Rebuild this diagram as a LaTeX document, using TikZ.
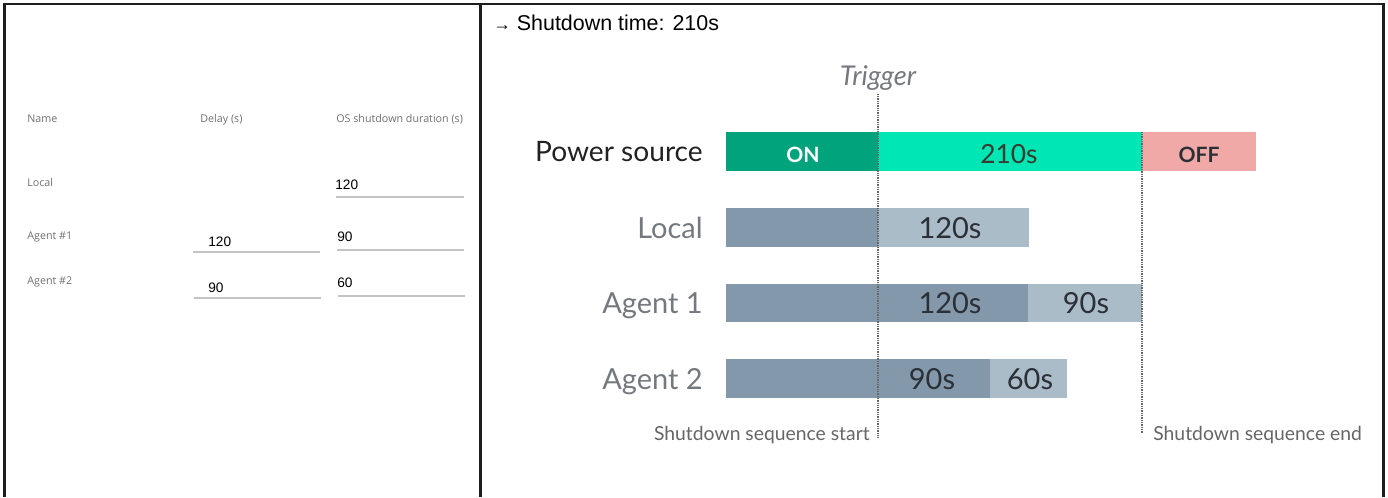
\documentclass[tikz,border=0pt]{standalone}
\usepackage{fontspec}
\setmainfont{Liberation Sans}
\newfontfamily\barfont{Lato}
\newfontfamily\formfont{Open Sans}
\usetikzlibrary{positioning}
\definecolor{framegray}{HTML}{1E1E1E}
\definecolor{fieldline}{HTML}{C4C4C4}
\definecolor{formgray}{HTML}{707070}
\definecolor{rowgray}{HTML}{74797F}
\definecolor{srcdark}{HTML}{222222}
\definecolor{onfill}{HTML}{00A37B}
\definecolor{runfill}{HTML}{00E6B4}
\definecolor{offfill}{HTML}{F0A9A7}
\definecolor{delayfill}{HTML}{8399AB}
\definecolor{osfill}{HTML}{ABBCC9}
\definecolor{segtext}{HTML}{2B2F36}
\definecolor{markgray}{HTML}{666666}
\tikzset{
  frame/.style={line width=1.2pt,draw=framegray},
  field/.style={line width=1.1pt,draw=fieldline},
  formlab/.style={font=\formfont\fontsize{6.1}{8}\selectfont,text=formgray,anchor=base west,inner sep=0},
  formval/.style={font=\fontsize{7.8}{9}\selectfont,anchor=base west,inner sep=0},
  rowlab/.style={font=\barfont\fontsize{16.5}{20}\selectfont,text=rowgray,anchor=base east,inner sep=0},
  seglab/.style={font=\barfont\fontsize{16.5}{20}\selectfont,text=segtext,anchor=base,inner sep=0},
  statelab/.style={font=\barfont\bfseries\fontsize{12}{14}\selectfont,anchor=base,inner sep=0},
  % the two dotted time markers
  marker/.style={line width=0.6pt,draw=markgray,dash pattern=on 0.5pt off 0.5pt},
  note/.style={font=\barfont\fontsize{11}{13}\selectfont,text=markgray,anchor=base,inner sep=0},
}

\begin{document}
\begin{tikzpicture}[x=0.02cm,y=-0.02cm]
  \useasboundingbox (0,0) rectangle (1388,497);
  % table frame: two cells, open at the bottom
  \draw[frame] (4.5,497) -- (4.5,4) -- (1383.5,4) -- (1383.5,497);
  \draw[frame] (480.5,4) -- (480.5,497);

  % left cell: the settings form
  \node[formlab] (hname)  at (27,122)  {Name};
  \node[formlab] (hdelay) at (200,122) {Delay (s)};
  \node[formlab] (hos)    at (336,122) {OS shutdown duration (s)};
  \node[formlab] (flocal) at (27,186)  {Local};
  \node[formlab] (fag1)   at (27,239)  {Agent \#1};
  \node[formlab] (fag2)   at (27,284)  {Agent \#2};
  \node[formval] (vlos)   at (335,189) {120};
  \node[formval] (va1d)   at (208,246) {120};
  \node[formval] (va1os)  at (337,241) {90};
  \node[formval] (va2d)   at (208,292) {90};
  \node[formval] (va2os)  at (337,287) {60};
  \draw[field] (336,197) -- (464,197);
  \draw[field] (193,252) -- (320,252);
  \draw[field] (337,250) -- (464,250);
  \draw[field] (194,298) -- (321,298);
  \draw[field] (338,296) -- (465,296);

  % right cell: the timeline
  \node[anchor=base west,inner sep=0,font=\fontsize{12.2}{14}\selectfont] (total) at (493,31)
    {{\fontsize{10}{12}\selectfont →}\ Shutdown time: 210s};

  \coordinate (trigtop) at (878,94);
  \coordinate (trigbot) at (878,437);
  \coordinate (endtop)  at (1142,132);
  \coordinate (endbot)  at (1142,433);

  % power source
  \fill[onfill]  (726,132) rectangle (878,171);
  \fill[runfill] (878,132) rectangle (1142,171);
  \fill[offfill] (1142,132) rectangle (1256,171);
  \node[rowlab,text=srcdark,font=\barfont\fontsize{16}{19}\selectfont] (psrc) at (703,161) {Power source};
  \node[statelab,text=white] (son)  at (803,162) {ON};
  \node[seglab,font=\barfont\fontsize{15}{18}\selectfont,text=segtext!85!olive] (srun) at (1009,163) {210s};
  \node[statelab,text=segtext] (soff) at (1199,162) {OFF};

  % local
  \fill[delayfill] (726,208) rectangle (878,247);
  \fill[osfill]    (878,208) rectangle (1029,247);
  \node[rowlab] (rlocal) at (703,238) {Local};
  \node[seglab] (lo) at (950,238) {120s};

  % agent 1
  \fill[delayfill] (726,284) rectangle (1028,322);
  \fill[osfill]    (1028,284) rectangle (1142,322);
  \node[rowlab] (rag1) at (703,313) {Agent 1};
  \node[seglab] (a1d)  at (950,313) {120s};
  \node[seglab] (a1os) at (1086,313) {90s};

  % agent 2
  \fill[delayfill] (726,359) rectangle (990,398);
  \fill[osfill]    (990,359) rectangle (1067,398);
  \node[rowlab] (rag2) at (703,389) {Agent 2};
  \node[seglab] (a2d)  at (932,389) {90s};
  \node[seglab] (a2os) at (1030,389) {60s};

  % markers go on top of the bars
  \draw[marker] (trigtop) -- (trigbot);
  \draw[marker] (endtop) -- (endbot);
  \node[note,font=\barfont\itshape\fontsize{15.5}{18}\selectfont,text=rowgray] (trig) at (878,85) {Trigger};
  \node[note,anchor=base east] (sstart) at (870,440) {Shutdown sequence start};
  \node[note,anchor=base west] (send)   at (1153,440) {Shutdown sequence end};
\end{tikzpicture}
\end{document}
